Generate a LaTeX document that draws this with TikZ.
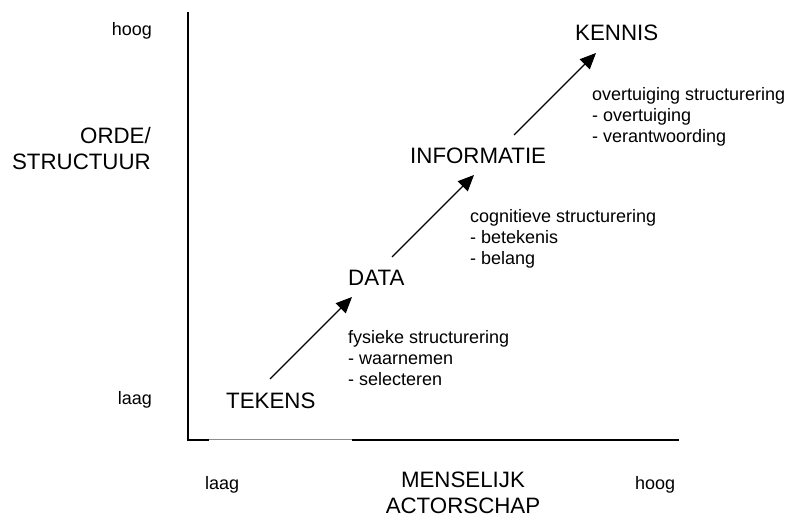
\documentclass[tikz,border=0pt]{standalone}
\usepackage{fontspec}
\setmainfont{Liberation Sans}
\usetikzlibrary{arrows.meta}
\tikzset{
  bigtxt/.style={font=\fontsize{22.3}{26}\selectfont, inner sep=0pt},
  smalltxt/.style={font=\fontsize{18}{21}\selectfont, inner sep=0pt, align=left},
  axisline/.style={line width=1.6pt, black},
  faintline/.style={line width=1pt, black!45},
  steparrow/.style={line width=1.3pt, -{Triangle[length=16pt,width=14pt]}}
}
\begin{document}
\begin{tikzpicture}[x=1pt,y=-1pt]
\useasboundingbox (0,0) rectangle (788,518);
% axes
\coordinate (ytop) at (188,12);
\coordinate (orig) at (188,440);
\coordinate (fa) at (209,440);
\coordinate (fb) at (352,440);
\coordinate (xend) at (679,440);
\draw[axisline] (ytop) -- (orig) -- (fa);
\draw[faintline] (fa) -- (fb);
\draw[axisline] (fb) -- (xend);
% axis labels
\node[smalltxt, anchor=base east] (yhigh) at (152,36) {hoog};
\node[smalltxt, anchor=base east] (ylow) at (152,405) {laag};
\node[bigtxt, anchor=base east, align=right] (ylab) at (151,170) {ORDE/\\STRUCTUUR};
\node[smalltxt, anchor=base west] (xlow) at (205,490) {laag};
\node[smalltxt, anchor=base west] (xhigh) at (635,490) {hoog};
\node[bigtxt, anchor=base, align=center] (xlab) at (463,514) {MENSELIJK\\ACTORSCHAP};
% levels
\node[bigtxt, anchor=base west] (tek) at (226,409) {TEKENS};
\node[bigtxt, anchor=base west] (dat) at (348,286) {DATA};
\node[bigtxt, anchor=base west] (inf) at (410,164) {INFORMATIE};
\node[bigtxt, anchor=base west] (ken) at (575,41) {KENNIS};
% descriptions
\node[smalltxt, anchor=base west] (d1) at (348,386) {fysieke structurering\\- waarnemen\\- selecteren};
\node[smalltxt, anchor=base west] (d2) at (470,265) {cognitieve structurering\\- betekenis\\- belang};
\node[smalltxt, anchor=base west] (d3) at (592,143) {overtuiging structurering\\- overtuiging\\- verantwoording};
% arrows
\coordinate (a1s) at (270,379);
\coordinate (a1e) at (352,297);
\coordinate (a2s) at (392,257);
\coordinate (a2e) at (474,175);
\coordinate (a3s) at (514,135);
\coordinate (a3e) at (596,53);
\draw[steparrow] (a1s) -- (a1e);
\draw[steparrow] (a2s) -- (a2e);
\draw[steparrow] (a3s) -- (a3e);
\end{tikzpicture}
\end{document}
